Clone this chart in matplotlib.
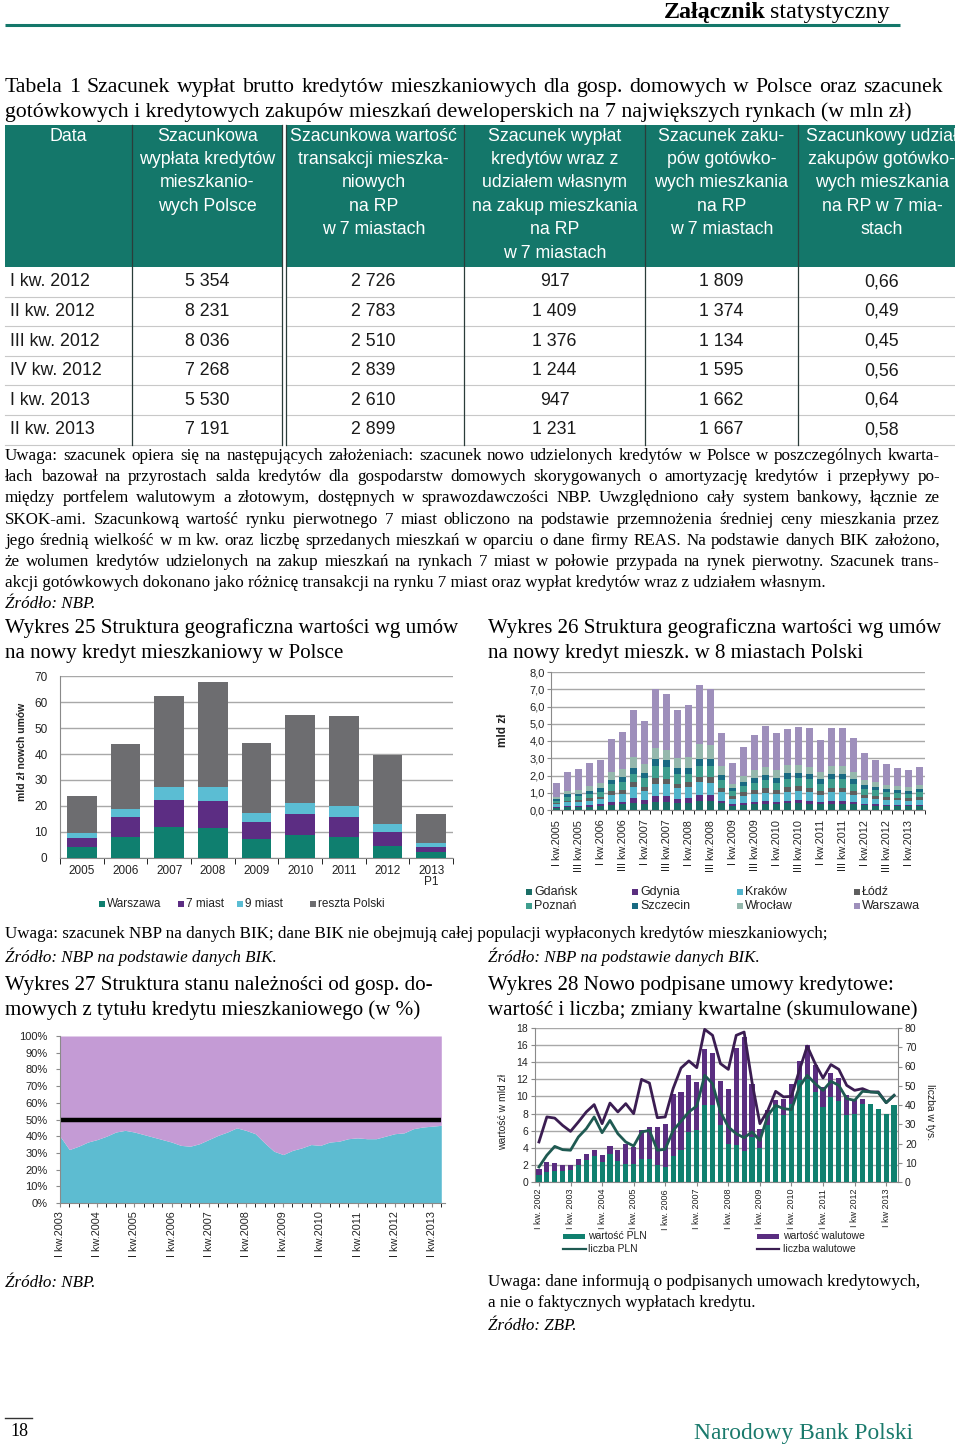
#!/usr/bin/env python3
import numpy as np
import matplotlib
matplotlib.use('Agg')
import matplotlib.pyplot as plt
from matplotlib.patches import Rectangle

# ---------------- data ----------------
# Tabela 1
tab_rows = ['I kw. 2012', 'II kw. 2012', 'III kw. 2012', 'IV kw. 2012', 'I kw. 2013', 'II kw. 2013']
wyplata_pl = [5354, 8231, 8036, 7268, 5530, 7191]
transakcje_7m = [2726, 2783, 2510, 2839, 2610, 2899]
wyplaty_udzial = [917, 1409, 1376, 1244, 947, 1231]
zakupy_got = [1809, 1374, 1134, 1595, 1662, 1667]
udzial_got = [0.66, 0.49, 0.45, 0.56, 0.64, 0.58]

# Wykres 25 (mld zl)
years25 = ['2005', '2006', '2007', '2008', '2009', '2010', '2011', '2012', '2013\nP1']
warszawa25 = [4.1, 8.2, 12.0, 11.5, 7.3, 8.8, 7.9, 4.7, 2.2]
miast7_25 = [3.5, 7.4, 10.3, 10.6, 6.6, 8.2, 7.8, 5.4, 2.1]
miast9_25 = [2.2, 3.4, 4.9, 5.1, 3.6, 4.0, 4.2, 2.9, 1.3]
reszta25 = [14.0, 24.7, 35.3, 40.4, 26.8, 34.0, 34.7, 26.8, 11.2]

# Wykres 26 (mld zl), I kw. 2005 - II kw. 2013
gdansk = [0.12, 0.16, 0.17, 0.19, 0.22, 0.30, 0.32, 0.42, 0.37, 0.48, 0.47, 0.40, 0.42, 0.52, 0.52, 0.40, 0.25,
          0.30, 0.33, 0.36, 0.33, 0.38, 0.40, 0.37, 0.32, 0.37, 0.37, 0.33, 0.27, 0.25, 0.23, 0.22, 0.21, 0.23]
gdynia = [0.05, 0.07, 0.08, 0.09, 0.10, 0.15, 0.17, 0.30, 0.22, 0.32, 0.32, 0.25, 0.30, 0.33, 0.33, 0.15, 0.08,
          0.12, 0.13, 0.15, 0.13, 0.17, 0.18, 0.17, 0.12, 0.16, 0.16, 0.12, 0.09, 0.08, 0.07, 0.06, 0.06, 0.07]
krakow = [0.15, 0.21, 0.22, 0.26, 0.30, 0.42, 0.46, 0.60, 0.52, 0.72, 0.70, 0.60, 0.60, 0.75, 0.72, 0.50, 0.30,
          0.40, 0.45, 0.50, 0.45, 0.52, 0.52, 0.50, 0.43, 0.51, 0.51, 0.44, 0.35, 0.33, 0.30, 0.29, 0.28, 0.30]
lodz = [0.08, 0.11, 0.11, 0.13, 0.15, 0.21, 0.23, 0.28, 0.25, 0.33, 0.33, 0.28, 0.28, 0.33, 0.35, 0.25, 0.17,
        0.21, 0.23, 0.25, 0.23, 0.26, 0.27, 0.26, 0.22, 0.26, 0.26, 0.22, 0.18, 0.17, 0.15, 0.14, 0.14, 0.15]
poznan = [0.15, 0.20, 0.22, 0.25, 0.28, 0.40, 0.44, 0.50, 0.47, 0.68, 0.66, 0.55, 0.50, 0.62, 0.63, 0.45, 0.28,
          0.37, 0.42, 0.47, 0.42, 0.49, 0.49, 0.47, 0.42, 0.49, 0.49, 0.42, 0.34, 0.32, 0.28, 0.27, 0.26, 0.28]
szczecin = [0.10, 0.15, 0.15, 0.18, 0.20, 0.27, 0.28, 0.35, 0.32, 0.42, 0.42, 0.37, 0.35, 0.40, 0.40, 0.28, 0.18,
            0.25, 0.28, 0.30, 0.28, 0.31, 0.31, 0.30, 0.27, 0.30, 0.30, 0.27, 0.22, 0.21, 0.19, 0.18, 0.17, 0.19]
wroclaw = [0.12, 0.20, 0.20, 0.30, 0.30, 0.45, 0.50, 0.60, 0.50, 0.65, 0.60, 0.55, 0.60, 0.85, 0.80, 0.50, 0.22,
           0.35, 0.45, 0.45, 0.45, 0.45, 0.45, 0.45, 0.40, 0.45, 0.45, 0.40, 0.30, 0.25, 0.25, 0.22, 0.22, 0.25]
warszawa26 = [0.78, 1.09, 1.21, 1.31, 1.36, 1.91, 2.15, 2.73, 2.52, 3.42, 3.21, 2.81, 3.02, 3.43, 3.27, 1.93, 1.27,
              1.64, 2.07, 2.40, 2.17, 2.13, 2.22, 2.23, 1.85, 2.19, 2.21, 1.95, 1.54, 1.26, 1.20, 1.06, 0.95, 1.05]
cities26 = ['Gdańsk', 'Gdynia', 'Kraków', 'Łódź', 'Poznań', 'Szczecin', 'Wrocław', 'Warszawa']
yticks26 = ['0,0', '1,0', '2,0', '3,0', '4,0', '5,0', '6,0', '7,0', '8,0']
quarters26 = [f'{q} kw.{y}' for y in range(2005, 2014) for q in ['I', 'II', 'III', 'IV']][:34]

# Wykres 27 (% zlotowe), I kw. 2003 - II kw. 2013
zlotowe = [40, 32, 34, 36.5, 38, 40, 42.5, 43.5, 42.5, 41, 39.5, 38, 36.5, 34.5, 34, 35.5, 38, 40.5, 42.5, 45,
           43.5, 41.5, 36, 31, 29, 31.5, 33, 35, 34.5, 36.5, 37, 38.5, 39, 38.5, 38.5, 40, 41.5, 42, 44.5, 45.5,
           46, 46.5]
linia50 = 50
labels27 = ['I kw.2003', 'I kw.2004', 'I kw.2005', 'I kw.2006', 'I kw.2007', 'I kw.2008', 'I kw.2009',
            'I kw.2010', 'I kw.2011', 'I kw.2012', 'I kw.2013']

# Wykres 28, I kw. 2002 - II kw. 2013
wartosc_pln = [0.78, 1.17, 1.25, 1.25, 1.36, 2.03, 2.53, 3.04, 2.34, 3.31, 2.45, 2.14, 2.06, 2.73, 2.65, 2.03,
               1.75, 3.04, 3.78, 5.84, 6.12, 9.04, 9.04, 6.62, 4.5, 4.28, 3.58, 5.3, 3.97, 6.62, 8.96, 7.79, 9.15,
               11.88, 12.08, 10.52, 8.77, 9.93, 9.43, 7.79, 7.99, 9.15, 9.08, 8.57, 7.9, 9.04]
wartosc_wal = [0.78, 1.17, 1.01, 0.78, 0.67, 0.70, 0.78, 0.74, 0.78, 0.86, 1.33, 2.26, 2.03, 3.39, 3.78, 4.40,
               5.07, 7.21, 6.74, 6.63, 5.57, 6.46, 6.06, 5.14, 6.4, 11.42, 13.32, 6.1, 2.26, 1.76, 0.58, 1.95, 2.34,
               2.26, 3.89, 3.11, 2.33, 2.85, 2.76, 2.34, 1.55, 0.51, 0.0, 0.0, 0.0, 0.0]
liczba_wal = [20.8, 33.8, 33.2, 29.4, 26.3, 31.2, 36.4, 40.2, 30.3, 41.0, 36.4, 40.7, 35.5, 53.3, 51.4, 33.4,
              33.8, 48.5, 59.2, 62.9, 59.4, 79.3, 76.2, 61.5, 58.5, 76.2, 77.9, 51.9, 30.3, 37.2, 47.1, 44.2, 44.5,
              58.0, 70.6, 61.5, 54.0, 61.0, 58.5, 50.2, 47.6, 48.5, 46.8, 46.8, 41.2, 45.0]
liczba_pln = [7.8, 13.9, 18.5, 16.8, 16.5, 23.4, 27.7, 33.8, 25.6, 32.0, 25.1, 20.8, 18.7, 26.0, 26.8, 16.5,
              17.0, 26.8, 31.5, 36.4, 39.5, 55.4, 51.1, 36.4, 28.6, 25.1, 23.0, 26.0, 21.6, 34.6, 39.8, 38.1, 37.6,
              49.4, 55.4, 51.1, 47.6, 52.3, 50.2, 43.3, 42.4, 47.1, 46.8, 46.4, 41.2, 45.0]
labels28 = ['I kw. 2002', 'I kw. 2003', 'I kw. 2004', 'I kw. 2005', 'I kw. 2006', 'I kw. 2007', 'I kw. 2008',
            'I kw. 2009', 'I kw. 2010', 'I kw. 2011', 'I kw 2012', 'I kw 2013']

# ---------------- texts ----------------
tab_title = ['Tabela 1 Szacunek wypłat brutto kredytów mieszkaniowych dla gosp. domowych w Polsce oraz szacunek',
             'gotówkowych i kredytowych zakupów mieszkań deweloperskich na 7 największych rynkach (w mln zł)']
tab_header = [
    ['Data'],
    ['Szacunkowa', 'wypłata kredytów', 'mieszkanio-', 'wych Polsce'],
    ['Szacunkowa wartość', 'transakcji mieszka-', 'niowych', 'na RP', 'w 7 miastach'],
    ['Szacunek wypłat', 'kredytów wraz z', 'udziałem własnym', 'na zakup mieszkania', 'na RP', 'w 7 miastach'],
    ['Szacunek zaku-', 'pów gotówko-', 'wych mieszkania', 'na RP', 'w 7 miastach'],
    ['Szacunkowy udział', 'zakupów gotówko-', 'wych mieszkania', 'na RP w 7 mia-', 'stach'],
]
note_lines = [
    'Uwaga: szacunek opiera się na następujących założeniach: szacunek nowo udzielonych kredytów w Polsce w poszczególnych kwarta-',
    'łach bazował na przyrostach salda kredytów dla gospodarstw domowych skorygowanych o amortyzację kredytów i przepływy po-',
    'między portfelem walutowym a złotowym, dostępnych w sprawozdawczości NBP. Uwzględniono cały system bankowy, łącznie ze',
    'SKOK-ami. Szacunkową wartość rynku pierwotnego 7 miast obliczono na podstawie przemnożenia średniej ceny mieszkania przez',
    'jego średnią wielkość w m kw. oraz liczbę sprzedanych mieszkań w oparciu o dane firmy REAS. Na podstawie danych BIK założono,',
    'że wolumen kredytów udzielonych na zakup mieszkań na rynkach 7 miast w połowie przypada na rynek pierwotny. Szacunek trans-',
    'akcji gotówkowych dokonano jako różnicę transakcji na rynku 7 miast oraz wypłat kredytów wraz z udziałem własnym.',
]

SERIF = 'Liberation Serif'
SANS = 'Liberation Sans'
TEAL = '#14776a'
GRID = '#a8a8a8'
SPINE = '#8a8a8a'

plt.rcParams['font.family'] = SANS

fig = plt.figure(figsize=(9.6, 14.5), dpi=100)
page = fig.add_axes([0, 0, 1, 1])
page.set_xlim(0, 960)
page.set_ylim(1450, 0)
page.axis('off')
renderer = fig.canvas.get_renderer()


def width_of(s, size, **kw):
    t = page.text(0, 0, s, fontsize=size, **kw)
    w = t.get_window_extent(renderer).width
    t.remove()
    return w


def fit(s, w, **kw):
    return 10.0 * w / width_of(s, 10.0, **kw)


def txt(x, y, s, size, **kw):
    kw.setdefault('va', 'center')
    return page.text(x, y, s, fontsize=size, **kw)


def justify(x0, x1, y, s, size, **kw):
    words = s.split()
    ws = [width_of(w, size, **kw) for w in words]
    gap = (x1 - x0 - sum(ws)) / max(len(words) - 1, 1)
    x = x0
    for w, wd in zip(words, ws):
        txt(x, y, w, size, **kw)
        x += wd + gap


def axes_px(l, t, r, b):
    return fig.add_axes([l / 960, 1 - b / 1450, (r - l) / 960, (b - t) / 1450])


def style_axes(ax):
    for s in ['top', 'right']:
        ax.spines[s].set_visible(False)
    for s in ['left', 'bottom']:
        ax.spines[s].set_color(SPINE)
    ax.tick_params(colors='#222222', labelsize=8)
    ax.tick_params(axis='both', color=SPINE)


def legend_sq(x, y, color, label, size, sq=6):
    page.add_patch(Rectangle((x, y - sq / 2), sq, sq, color=color, lw=0))
    txt(x + sq + 2, y, label, size, color='#222222')


# ---------------- page header ----------------
fs_head = fit('statystyczny', 120, family=SERIF)
txt(890, 12, 'statystyczny', fs_head, family=SERIF, ha='right')
w_stat = width_of('statystyczny', fs_head, family=SERIF)
txt(890 - w_stat - 5, 12, 'Załącznik', fs_head, family=SERIF, weight='bold', ha='right')
page.plot([5, 900], [25, 25], color=TEAL, lw=2.2, solid_capstyle='butt')

# ---------------- table ----------------
fs_t = fit(tab_title[0], 925, family=SERIF)
justify(5, 943, 87, tab_title[0], fs_t, family=SERIF)
txt(5, 112, tab_title[1], fs_t, family=SERIF)

edges = [5, 132, 283, 464, 645, 798, 966]
centers = [(a + b) / 2 for a, b in zip(edges[:-1], edges[1:])]
hdr_top, hdr_bot, row_h = 125, 267, 29.6
tab_bot = hdr_bot + row_h * len(tab_rows)
page.add_patch(Rectangle((5, hdr_top), 950, hdr_bot - hdr_top, color=TEAL, lw=0))
fs_h = fit('Szacunkowa wartość', 167)
for c, lines in enumerate(tab_header):
    for k, line in enumerate(lines):
        txt(centers[c], 136 + k * 23.4, line, fs_h, ha='center', color='white')
for r in range(1, len(tab_rows) + 1):
    page.plot([5, 955], [hdr_bot + r * row_h] * 2, color='#c8c8c8', lw=0.8)
for xe in [132, 464, 645, 798]:
    page.plot([xe, xe], [hdr_top, tab_bot], color='#2b3d3a', lw=0.9)
page.plot([283.5, 283.5], [hdr_top, tab_bot], color='white', lw=2.5)
for xe in [281.5, 285.5]:
    page.plot([xe, xe], [hdr_top, tab_bot], color='#2b3d3a', lw=0.9)
page.add_patch(Rectangle((955, hdr_top - 5), 10, tab_bot - hdr_top + 10, color='white', lw=0, zorder=5))


def pl_int(v):
    return f'{v:,}'.replace(',', ' ')


for r, name in enumerate(tab_rows):
    y = hdr_bot + (r + 0.5) * row_h
    txt(10, y, name, fs_h, color='#1a1a1a')
    vals = [pl_int(wyplata_pl[r]), pl_int(transakcje_7m[r]), pl_int(wyplaty_udzial[r]),
            pl_int(zakupy_got[r]), f'{udzial_got[r]:.2f}'.replace('.', ',')]
    for c, v in enumerate(vals):
        txt(centers[c + 1], y, v, fs_h, ha='center', color='#1a1a1a')

fs_n = fit(note_lines[0], 915, family=SERIF)
for k, line in enumerate(note_lines):
    y = 456 + k * 21.2
    if k < 6:
        justify(5, 940, y, line, fs_n, family=SERIF)
    else:
        txt(5, y, line, fs_n, family=SERIF)
txt(5, 604, 'Źródło: NBP.', fs_n, family=SERIF, style='italic')

# ---------------- chart titles ----------------
fs_c = fit('Wykres 25 Struktura geograficzna wartości wg umów', 453, family=SERIF)
txt(5, 628, 'Wykres 25 Struktura geograficzna wartości wg umów', fs_c, family=SERIF)
txt(5, 653, 'na nowy kredyt mieszkaniowy w Polsce', fs_c, family=SERIF)
txt(488, 628, 'Wykres 26 Struktura geograficzna wartości wg umów', fs_c, family=SERIF)
txt(488, 653, 'na nowy kredyt mieszk. w 8 miastach Polski', fs_c, family=SERIF)
txt(5, 985, 'Wykres 27 Struktura stanu należności od gosp. do-', fs_c, family=SERIF)
txt(5, 1010, 'mowych z tytułu kredytu mieszkaniowego (w %)', fs_c, family=SERIF)
txt(488, 985, 'Wykres 28 Nowo podpisane umowy kredytowe:', fs_c, family=SERIF)
txt(488, 1010, 'wartość i liczba; zmiany kwartalne (skumulowane)', fs_c, family=SERIF)

# ---------------- Wykres 25 ----------------
colors25 = ['#0f7f6f', '#5c2d83', '#5bbdd3', '#6d6d70']
names25 = ['Warszawa', '7 miast', '9 miast', 'reszta Polski']
ax = axes_px(60, 676, 453, 858)
x25 = np.arange(len(years25))
bottom = np.zeros(len(x25))
for vals, col in zip([warszawa25, miast7_25, miast9_25, reszta25], colors25):
    ax.bar(x25, vals, 0.68, bottom=bottom, color=col, zorder=3, lw=0)
    bottom += np.array(vals)
ax.set_xlim(-0.5, len(x25) - 0.5)
ax.set_ylim(0, 70)
ax.set_yticks(range(0, 71, 10))
ax.grid(axis='y', color=GRID, lw=1, zorder=0)
style_axes(ax)
ax.set_xticks(x25)
ax.set_xticklabels(years25, linespacing=0.95)
ax.set_xticks(np.arange(-0.5, len(x25), 1), minor=True)
ax.tick_params(axis='x', which='major', length=0, pad=5, labelsize=8.5)
ax.tick_params(axis='x', which='minor', length=4)
ax.tick_params(axis='y', length=0, pad=9, labelsize=8.5)
txt(22, 752, 'mld zł nowch umów', 7.5, rotation=90, ha='center', weight='bold', color='#222222')
for xs, col, nm in zip([99, 178, 237, 310], colors25, names25):
    legend_sq(xs, 904, col, nm, 8.5)

# ---------------- Wykres 26 ----------------
colors26 = ['#1a6e66', '#5a2e7f', '#52b5cc', '#5e5e5e', '#3e9e8e', '#196a82', '#95b8ad', '#9e8fbb']
ax = axes_px(551, 672, 925, 810)
x26 = np.arange(len(gdansk))
bottom = np.zeros(len(x26))
for vals, col in zip([gdansk, gdynia, krakow, lodz, poznan, szczecin, wroclaw, warszawa26], colors26):
    ax.bar(x26, vals, 0.62, bottom=bottom, color=col, zorder=3, lw=0)
    bottom += np.array(vals)
ax.set_xlim(-0.5, len(x26) - 0.5)
ax.set_ylim(0, 8)
ax.set_yticks(range(0, 9))
ax.set_yticklabels(yticks26)
ax.grid(axis='y', color=GRID, lw=1, zorder=0)
style_axes(ax)
ax.set_xticks(x26[::2])
ax.set_xticklabels(quarters26[::2], rotation=90, va='top', ha='center')
ax.set_xticks(np.arange(-0.5, len(x26), 1), minor=True)
ax.tick_params(axis='x', which='major', length=0, pad=7, labelsize=7.8)
ax.tick_params(axis='x', which='minor', length=3)
ax.tick_params(axis='y', length=3, pad=1.5, labelsize=8)
txt(503, 730, 'mld zł', 8.5, rotation=90, ha='center', weight='bold', color='#222222')
leg_pos26 = [(526, 892), (632, 892), (737, 892), (854, 892), (526, 906), (632, 906), (737, 906), (854, 906)]
for (xs, ys), col, nm in zip(leg_pos26, colors26, cities26):
    legend_sq(xs, ys, col, nm, 9)

txt(5, 934, 'Uwaga: szacunek NBP na danych BIK; dane BIK nie obejmują całej populacji wypłaconych kredytów mieszkaniowych;',
    fs_n, family=SERIF)
txt(5, 957, 'Źródło: NBP na podstawie danych BIK.', fs_n, family=SERIF, style='italic')
txt(488, 957, 'Źródło: NBP na podstawie danych BIK.', fs_n, family=SERIF, style='italic')

# ---------------- Wykres 27 ----------------
ax = axes_px(60, 1036, 445, 1203)
x27 = np.arange(len(zlotowe))
ax.fill_between(x27, 0, zlotowe, color='#5dbcd1', lw=0)
ax.fill_between(x27, zlotowe, 100, color='#c49bd5', lw=0)
ax.plot(x27, [linia50] * len(x27), color='black', lw=3.2, solid_capstyle='butt')
ax.set_xlim(0, len(x27) - 0.6)
ax.set_ylim(0, 100)
ax.set_yticks(range(0, 101, 10))
ax.set_yticklabels([f'{v}%' for v in range(0, 101, 10)])
style_axes(ax)
ax.set_xticks(x27[::4])
ax.set_xticklabels(labels27, rotation=90, va='top', ha='center')
ax.set_xticks(x27, minor=True)
ax.tick_params(axis='x', which='major', length=3, pad=3, labelsize=7.8)
ax.tick_params(axis='x', which='minor', length=3)
ax.tick_params(axis='y', length=3, pad=6, labelsize=8)
txt(255, 1095, 'walutowe', 12, ha='center', color='white')
txt(248, 1161, 'złotowe', 12, ha='center', color='white')
txt(5, 1283, 'Źródło: NBP.', fs_n, family=SERIF, style='italic')

# ---------------- Wykres 28 ----------------
c_pln, c_wal = '#10806f', '#5a2d80'
l_pln, l_wal = '#1f5a52', '#3b1d52'
ax = axes_px(535, 1028, 898, 1182)
x28 = np.arange(len(wartosc_pln))
ax.bar(x28, wartosc_pln, 0.65, color=c_pln, zorder=3, lw=0)
ax.bar(x28, wartosc_wal, 0.65, bottom=wartosc_pln, color=c_wal, zorder=3, lw=0)
ax.set_xlim(-0.5, len(x28) - 0.5)
ax.set_ylim(0, 18)
ax.set_yticks(range(0, 19, 2))
ax.grid(axis='y', color=GRID, lw=1, zorder=0)
style_axes(ax)
ax.set_xticks(x28[::4])
ax.set_xticklabels(labels28, rotation=90, va='top', ha='center')
ax.tick_params(axis='x', length=3, pad=2, labelsize=6.5)
ax.tick_params(axis='y', length=3, pad=2, labelsize=7.5)
axr = ax.twinx()
axr.plot(x28, liczba_wal, color=l_wal, lw=2)
axr.plot(x28, liczba_pln, color=l_pln, lw=2)
axr.set_ylim(0, 80)
axr.set_yticks(range(0, 81, 10))
for s in ['top', 'left', 'bottom']:
    axr.spines[s].set_visible(False)
axr.spines['right'].set_color(SPINE)
axr.tick_params(axis='y', length=3, pad=2, labelsize=7.5, color=SPINE, colors='#222222')
txt(503, 1112, 'wartość w mld zł', 7.5, rotation=90, ha='center', color='#222222')
txt(930, 1112, 'liczba w tys.', 7.5, rotation=270, ha='center', color='#222222')

page.add_patch(Rectangle((563, 1233.5), 22, 5, color=c_pln, lw=0))
txt(588, 1236, 'wartość PLN', 7.5, color='#222222')
page.plot([563, 586], [1249, 1249], color=l_pln, lw=1.6)
txt(588, 1249, 'liczba PLN', 7.5, color='#222222')
page.add_patch(Rectangle((757, 1233.5), 22, 5, color=c_wal, lw=0))
txt(783, 1236, 'wartość walutowe', 7.5, color='#222222')
page.plot([757, 779], [1249, 1249], color=l_wal, lw=1.6)
txt(783, 1249, 'liczba walutowe', 7.5, color='#222222')

txt(488, 1282, 'Uwaga: dane informują o podpisanych umowach kredytowych,', fs_n, family=SERIF)
txt(488, 1303, 'a nie o faktycznych wypłatach kredytu.', fs_n, family=SERIF)
txt(488, 1326, 'Źródło: ZBP.', fs_n, family=SERIF, style='italic')

# ---------------- footer ----------------
page.plot([5, 32], [1418, 1418], color='#333333', lw=1)
txt(10, 1432, '18', 13, family=SERIF)
fs_f = fit('Narodowy Bank Polski', 220, family=SERIF)
txt(913, 1434, 'Narodowy Bank Polski', fs_f, family=SERIF, ha='right', color='#1a7a6c')

fig.savefig('out.png', dpi=100)
